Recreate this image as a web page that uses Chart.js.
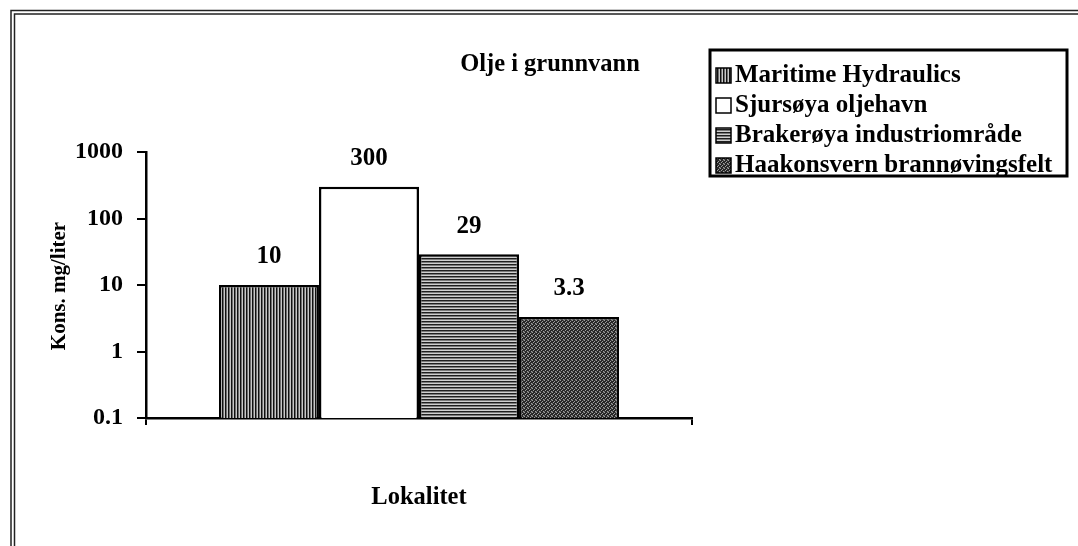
<!DOCTYPE html>
<html>
<head>
<meta charset="utf-8">
<script src="https://cdn.jsdelivr.net/npm/chart.js@4.4.1/dist/chart.umd.min.js"></script>
<style>
html,body{margin:0;padding:0;background:#fff;}
#wrap{width:1078px;height:546px;position:relative;}
canvas{display:block;}
</style>
</head>
<body>
<div id="wrap"><canvas id="c" width="1078" height="546"></canvas></div>
<script>
// ---- data ----
const categories = ['Lokalitet'];
const seriesNames = ['Maritime Hydraulics', 'Sjursøya oljehavn', 'Brakerøya industriområde', 'Haakonsvern brannøvingsfelt'];
const maritimeValues = [10];
const sjursoyaValues = [300];
const brakeroyaValues = [29];
const haakonsvernValues = [3.3];
const valueLabels = ['10', '300', '29', '3.3'];
const yTickValues = [0.1, 1, 10, 100, 1000];
const yTickLabels = ['0.1', '1', '10', '100', '1000'];
const chartTitle = 'Olje i grunnvann';
const yAxisTitle = 'Kons. mg/liter';
const xAxisTitle = 'Lokalitet';

// ---- patterns ----
function makePattern(kind) {
  const c = document.createElement('canvas');
  const ctx = c.getContext('2d');
  if (kind === 'vert') {
    c.width = 3; c.height = 3;
    const cols = ['#111111', '#6e6e6e', '#c8c8c8'];
    cols.forEach((col, i) => { ctx.fillStyle = col; ctx.fillRect(i, 0, 1, 3); });
  } else if (kind === 'horiz') {
    c.width = 3; c.height = 3;
    const rows = ['#1e1e1e', '#7a7a7a', '#cfcfcf'];
    rows.forEach((col, i) => { ctx.fillStyle = col; ctx.fillRect(0, i, 3, 1); });
  } else if (kind === 'stipple') {
    c.width = 4; c.height = 4;
    ctx.fillStyle = '#262626'; ctx.fillRect(0, 0, 4, 4);
    ctx.fillStyle = '#9c9c9c';
    ctx.fillRect(0, 0, 1, 1); ctx.fillRect(2, 1, 1, 1); ctx.fillRect(1, 2, 1, 1); ctx.fillRect(3, 3, 1, 1);
    ctx.fillStyle = '#555';
    ctx.fillRect(3, 0, 1, 1); ctx.fillRect(0, 3, 1, 1);
  } else {
    c.width = 2; c.height = 2;
    ctx.fillStyle = '#ffffff'; ctx.fillRect(0, 0, 2, 2);
  }
  return ctx.createPattern(c, 'repeat');
}
const fills = [makePattern('vert'), makePattern('white'), makePattern('horiz'), makePattern('stipple')];
const seriesValues = [maritimeValues, sjursoyaValues, brakeroyaValues, haakonsvernValues];

const SERIF = '"Liberation Serif", "Times New Roman", serif';

const decorPlugin = {
  id: 'decor',
  beforeDraw(chart) {
    const ctx = chart.ctx;
    ctx.save();
    ctx.fillStyle = '#fff';
    ctx.fillRect(0, 0, chart.width, chart.height);
    // double frame
    ctx.strokeStyle = '#222';
    ctx.lineWidth = 1.5;
    ctx.beginPath();
    ctx.moveTo(11, 546); ctx.lineTo(11, 10.5); ctx.lineTo(1078, 10.5);
    ctx.moveTo(14.5, 546); ctx.lineTo(14.5, 14); ctx.lineTo(1078, 14);
    ctx.stroke();
    ctx.restore();
  },
  afterDatasetsDraw(chart) {
    const ctx = chart.ctx;
    ctx.save();
    // value labels
    ctx.fillStyle = '#000';
    ctx.font = 'bold 25px ' + SERIF;
    ctx.textAlign = 'center';
    ctx.textBaseline = 'middle';
    chart.data.datasets.forEach((ds, i) => {
      const el = chart.getDatasetMeta(i).data[0];
      ctx.fillText(valueLabels[i], el.x, el.y - 28);
    });
    // title
    ctx.font = 'bold 24.5px ' + SERIF;
    ctx.fillText(chartTitle, 550, 65);
    // x title
    ctx.font = 'bold 24.5px ' + SERIF;
    ctx.fillText(xAxisTitle, 419, 498);
    // y title
    ctx.save();
    ctx.translate(60, 286);
    ctx.rotate(-Math.PI / 2);
    ctx.font = 'bold 21px ' + SERIF;
    ctx.fillText(yAxisTitle, 0, 0);
    ctx.restore();
    // legend
    ctx.strokeStyle = '#000';
    ctx.lineWidth = 3;
    ctx.strokeRect(710, 50, 357, 126);
    ctx.textAlign = 'left';
    ctx.font = 'bold 25px ' + SERIF;
    chart.data.datasets.forEach((ds, i) => {
      const cy = 75 + i * 30;
      ctx.fillStyle = ds.backgroundColor;
      ctx.fillRect(716, cy - 7, 15, 15);
      ctx.lineWidth = 1.5;
      ctx.strokeStyle = '#000';
      ctx.strokeRect(716, cy - 7, 15, 15);
      ctx.fillStyle = '#000';
      ctx.fillText(ds.label, 735, cy + 1);
    });
    ctx.restore();
  }
};

const datasets = seriesNames.map((name, i) => ({
  label: name,
  data: seriesValues[i],
  backgroundColor: fills[i],
  borderColor: '#000',
  borderWidth: 2.5,
  borderSkipped: 'bottom',
  categoryPercentage: 0.733,
  barPercentage: 1.0
}));

new Chart(document.getElementById('c'), {
  type: 'bar',
  data: { labels: categories, datasets },
  options: {
    responsive: false,
    animation: false,
    devicePixelRatio: 1,
    layout: { padding: { left: 0, top: 152, right: 386, bottom: 0 } },
    plugins: { legend: { display: false }, tooltip: { enabled: false }, title: { display: false } },
    scales: {
      x: {
        type: 'category',
        afterFit(s) { s.height = 128; },
        grid: { display: true, drawOnChartArea: false, drawTicks: true, tickLength: 7, color: '#000', lineWidth: 2, offset: true },
        border: { display: true, color: '#000', width: 2.5 },
        ticks: { display: false }
      },
      y: {
        type: 'logarithmic',
        min: 0.1,
        max: 1000,
        afterFit(s) { s.width = 146; },
        afterBuildTicks(s) { s.ticks = yTickValues.map(v => ({ value: v })); },
        grid: { display: true, drawOnChartArea: false, drawTicks: true, tickLength: 9, color: '#000', lineWidth: 2 },
        border: { display: true, color: '#000', width: 2.5 },
        ticks: {
          color: '#000',
          padding: 14,
          font: { family: SERIF, size: 24, weight: 'bold' },
          callback(value) {
            const idx = yTickValues.findIndex(v => Math.abs(v - value) < 1e-9);
            return idx >= 0 ? yTickLabels[idx] : '';
          }
        }
      }
    }
  },
  plugins: [decorPlugin]
});
</script>
</body>
</html>
